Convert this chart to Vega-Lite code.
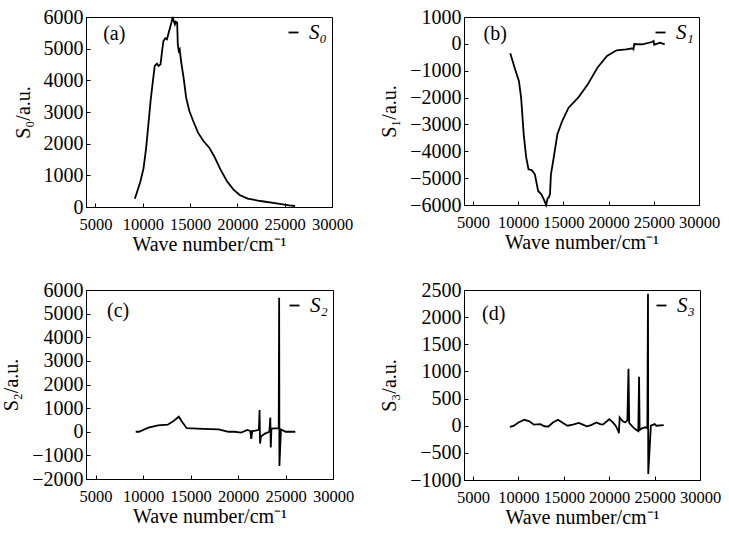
{
  "$schema": "https://vega.github.io/schema/vega-lite/v6.json",
  "padding": {"left": 1, "top": 6, "right": 0, "bottom": 5},
  "background": "white",
  "config": {
    "view": {"stroke": "black", "strokeWidth": 1},
    "font": "Liberation Serif",
    "axis": {"domainColor": "black", "tickColor": "black", "labelColor": "black", "titleColor": "black", "labelFont": "Liberation Serif", "titleFont": "Liberation Serif", "titleFontWeight": "normal", "grid": false, "tickSize": -4, "labelFlush": false, "labelOverlap": false},
    "axisX": {"labelFontSize": 16.5, "titleFontSize": 20, "labelPadding": 13, "titlePadding": 2},
    "axisY": {"labelFontSize": 20, "titleFontSize": 20, "labelPadding": 7, "titlePadding": 10},
    "legend": {"orient": "top-right", "symbolType": "stroke", "symbolSize": 100, "symbolStrokeWidth": 1.6, "symbolStrokeColor": "black", "labelFont": "Liberation Serif", "labelFontSize": 21, "labelFontStyle": "italic", "labelColor": "black", "offset": 5, "padding": 0, "labelOffset": 5},
    "line": {"color": "black", "strokeWidth": 1.8},
    "text": {"font": "Liberation Serif", "fontSize": 20, "align": "left", "baseline": "middle", "color": "black"}
  },
  "datasets": {
    "a": [
      {"w": 9166, "v": 263, "s": "S₀"}, {"w": 9742, "v": 800, "s": "S₀"}, {"w": 10080, "v": 1221, "s": "S₀"}, {"w": 10351, "v": 1853, "s": "S₀"}, {"w": 10588, "v": 2590, "s": "S₀"}, {"w": 10825, "v": 3347, "s": "S₀"}, {"w": 11028, "v": 3874, "s": "S₀"}, {"w": 11266, "v": 4453, "s": "S₀"}, {"w": 11502, "v": 4527, "s": "S₀"}, {"w": 11672, "v": 4453, "s": "S₀"}, {"w": 11875, "v": 4506, "s": "S₀"}, {"w": 12044, "v": 4927, "s": "S₀"}, {"w": 12180, "v": 5243, "s": "S₀"}, {"w": 12383, "v": 5327, "s": "S₀"}, {"w": 12552, "v": 5295, "s": "S₀"}, {"w": 12789, "v": 5559, "s": "S₀"}, {"w": 13026, "v": 5822, "s": "S₀"}, {"w": 13162, "v": 6000, "s": "S₀"}, {"w": 13297, "v": 5853, "s": "S₀"}, {"w": 13399, "v": 5769, "s": "S₀"}, {"w": 13500, "v": 5853, "s": "S₀"}, {"w": 13636, "v": 5822, "s": "S₀"}, {"w": 13704, "v": 5137, "s": "S₀"}, {"w": 13806, "v": 4927, "s": "S₀"}, {"w": 13907, "v": 4980, "s": "S₀"}, {"w": 14042, "v": 4611, "s": "S₀"}, {"w": 14313, "v": 4085, "s": "S₀"}, {"w": 14584, "v": 3453, "s": "S₀"}, {"w": 14923, "v": 3032, "s": "S₀"}, {"w": 15330, "v": 2716, "s": "S₀"}, {"w": 15838, "v": 2348, "s": "S₀"}, {"w": 16414, "v": 2084, "s": "S₀"}, {"w": 17023, "v": 1874, "s": "S₀"}, {"w": 17532, "v": 1611, "s": "S₀"}, {"w": 18208, "v": 1190, "s": "S₀"}, {"w": 18886, "v": 821, "s": "S₀"}, {"w": 19563, "v": 558, "s": "S₀"}, {"w": 20240, "v": 379, "s": "S₀"}, {"w": 21087, "v": 263, "s": "S₀"}, {"w": 22441, "v": 189, "s": "S₀"}, {"w": 24135, "v": 116, "s": "S₀"}, {"w": 25490, "v": 53, "s": "S₀"}, {"w": 26100, "v": 32, "s": "S₀"}
    ],
    "b": [
      {"w": 9117, "v": -353, "s": "S₁"}, {"w": 9713, "v": -1010, "s": "S₁"}, {"w": 10075, "v": -1383, "s": "S₁"}, {"w": 10320, "v": -2003, "s": "S₁"}, {"w": 10605, "v": -3368, "s": "S₁"}, {"w": 10885, "v": -4238, "s": "S₁"}, {"w": 11137, "v": -4670, "s": "S₁"}, {"w": 11490, "v": -4700, "s": "S₁"}, {"w": 11841, "v": -4857, "s": "S₁"}, {"w": 12203, "v": -5478, "s": "S₁"}, {"w": 12560, "v": -5600, "s": "S₁"}, {"w": 12906, "v": -5850, "s": "S₁"}, {"w": 13087, "v": -6000, "s": "S₁"}, {"w": 13250, "v": -5750, "s": "S₁"}, {"w": 13371, "v": -5727, "s": "S₁"}, {"w": 13513, "v": -5601, "s": "S₁"}, {"w": 13618, "v": -4857, "s": "S₁"}, {"w": 13866, "v": -4361, "s": "S₁"}, {"w": 14331, "v": -3368, "s": "S₁"}, {"w": 14863, "v": -2872, "s": "S₁"}, {"w": 15572, "v": -2376, "s": "S₁"}, {"w": 16636, "v": -2003, "s": "S₁"}, {"w": 17694, "v": -1507, "s": "S₁"}, {"w": 18758, "v": -887, "s": "S₁"}, {"w": 19822, "v": -452, "s": "S₁"}, {"w": 20886, "v": -241, "s": "S₁"}, {"w": 21950, "v": -203, "s": "S₁"}, {"w": 22660, "v": -166, "s": "S₁"}, {"w": 22750, "v": -200, "s": "S₁"}, {"w": 22840, "v": -6, "s": "S₁"}, {"w": 23727, "v": -17, "s": "S₁"}, {"w": 24790, "v": 69, "s": "S₁"}, {"w": 24970, "v": 107, "s": "S₁"}, {"w": 25050, "v": -30, "s": "S₁"}, {"w": 25150, "v": -17, "s": "S₁"}, {"w": 25680, "v": 45, "s": "S₁"}, {"w": 26208, "v": -17, "s": "S₁"}
    ],
    "c": [
      {"w": 9234, "v": 0, "s": "S₂"}, {"w": 9570, "v": 0, "s": "S₂"}, {"w": 10578, "v": 173, "s": "S₂"}, {"w": 11586, "v": 271, "s": "S₂"}, {"w": 12594, "v": 300, "s": "S₂"}, {"w": 13098, "v": 420, "s": "S₂"}, {"w": 13500, "v": 550, "s": "S₂"}, {"w": 13770, "v": 638, "s": "S₂"}, {"w": 14106, "v": 420, "s": "S₂"}, {"w": 14610, "v": 150, "s": "S₂"}, {"w": 16290, "v": 120, "s": "S₂"}, {"w": 17970, "v": 100, "s": "S₂"}, {"w": 19000, "v": 0, "s": "S₂"}, {"w": 19650, "v": 0, "s": "S₂"}, {"w": 20322, "v": -40, "s": "S₂"}, {"w": 20994, "v": 80, "s": "S₂"}, {"w": 21300, "v": 30, "s": "S₂"}, {"w": 21394, "v": -300, "s": "S₂"}, {"w": 21500, "v": 30, "s": "S₂"}, {"w": 21834, "v": 50, "s": "S₂"}, {"w": 22200, "v": 80, "s": "S₂"}, {"w": 22270, "v": 920, "s": "S₂"}, {"w": 22320, "v": -500, "s": "S₂"}, {"w": 22420, "v": -200, "s": "S₂"}, {"w": 22842, "v": -80, "s": "S₂"}, {"w": 23300, "v": 0, "s": "S₂"}, {"w": 23400, "v": 600, "s": "S₂"}, {"w": 23450, "v": -670, "s": "S₂"}, {"w": 23514, "v": 130, "s": "S₂"}, {"w": 24286, "v": 150, "s": "S₂"}, {"w": 24330, "v": 5670, "s": "S₂"}, {"w": 24360, "v": -1450, "s": "S₂"}, {"w": 24522, "v": 100, "s": "S₂"}, {"w": 25026, "v": 0, "s": "S₂"}, {"w": 26034, "v": 0, "s": "S₂"}
    ],
    "d": [
      {"w": 9058, "v": -20, "s": "S₃"}, {"w": 9500, "v": 0, "s": "S₃"}, {"w": 10000, "v": 60, "s": "S₃"}, {"w": 10648, "v": 110, "s": "S₃"}, {"w": 11200, "v": 80, "s": "S₃"}, {"w": 11700, "v": 20, "s": "S₃"}, {"w": 12413, "v": 30, "s": "S₃"}, {"w": 12850, "v": -10, "s": "S₃"}, {"w": 13295, "v": -15, "s": "S₃"}, {"w": 13800, "v": 60, "s": "S₃"}, {"w": 14354, "v": 110, "s": "S₃"}, {"w": 14900, "v": 50, "s": "S₃"}, {"w": 15413, "v": 0, "s": "S₃"}, {"w": 16000, "v": 20, "s": "S₃"}, {"w": 16649, "v": 50, "s": "S₃"}, {"w": 17100, "v": 20, "s": "S₃"}, {"w": 17531, "v": -10, "s": "S₃"}, {"w": 18000, "v": 10, "s": "S₃"}, {"w": 18590, "v": 60, "s": "S₃"}, {"w": 19000, "v": 30, "s": "S₃"}, {"w": 19297, "v": 20, "s": "S₃"}, {"w": 20003, "v": 120, "s": "S₃"}, {"w": 20400, "v": 60, "s": "S₃"}, {"w": 20709, "v": 0, "s": "S₃"}, {"w": 21000, "v": -100, "s": "S₃"}, {"w": 21062, "v": -140, "s": "S₃"}, {"w": 21150, "v": 150, "s": "S₃"}, {"w": 21238, "v": 130, "s": "S₃"}, {"w": 21500, "v": 80, "s": "S₃"}, {"w": 21768, "v": 60, "s": "S₃"}, {"w": 22000, "v": 100, "s": "S₃"}, {"w": 22121, "v": 1050, "s": "S₃"}, {"w": 22200, "v": 50, "s": "S₃"}, {"w": 22474, "v": 0, "s": "S₃"}, {"w": 22700, "v": -40, "s": "S₃"}, {"w": 23000, "v": -80, "s": "S₃"}, {"w": 23200, "v": -100, "s": "S₃"}, {"w": 23286, "v": 900, "s": "S₃"}, {"w": 23350, "v": -80, "s": "S₃"}, {"w": 23600, "v": -50, "s": "S₃"}, {"w": 24000, "v": -30, "s": "S₃"}, {"w": 24200, "v": -50, "s": "S₃"}, {"w": 24270, "v": 2430, "s": "S₃"}, {"w": 24300, "v": -890, "s": "S₃"}, {"w": 24588, "v": 0, "s": "S₃"}, {"w": 25000, "v": 30, "s": "S₃"}, {"w": 25200, "v": 0, "s": "S₃"}, {"w": 26000, "v": 10, "s": "S₃"}
    ]
  },
  "columns": 2,
  "spacing": {"row": 24, "column": 24},
  "resolve": {"scale": {"color": "independent"}, "legend": {"color": "independent"}},
  "concat": [
    {
      "width": 246, "height": 190,
      "layer": [
        {"data": {"name": "a"}, "mark": {"type": "line"},
         "encoding": {
           "x": {"field": "w", "type": "quantitative", "scale": {"domain": [5000, 30000]}, "axis": {"values": [5000, 10000, 15000, 20000, 25000, 30000], "format": "d", "labelOverlap": false, "title": "Wave number/cm⁻¹"}},
           "y": {"field": "v", "type": "quantitative", "scale": {"domain": [0, 6000]}, "axis": {"values": [0, 1000, 2000, 3000, 4000, 5000, 6000], "format": "d", "labelOverlap": false, "title": "S₀/a.u."}},
           "color": {"field": "s", "type": "nominal", "scale": {"range": ["black"]}, "legend": {"title": null}}
         }},
        {"data": {"values": [{"label": "(a)"}]}, "mark": {"type": "text"}, "encoding": {
           "x": {"datum": 5813, "type": "quantitative", "axis": {"values": [5000, 10000, 15000, 20000, 25000, 30000], "format": "d", "labelOverlap": false, "title": "Wave number/cm⁻¹"}},
           "y": {"datum": 5463, "type": "quantitative", "axis": {"values": [0, 1000, 2000, 3000, 4000, 5000, 6000], "format": "d", "labelOverlap": false, "title": "S₀/a.u."}},
           "text": {"field": "label"}}}
      ]
    },
    {
      "width": 235, "height": 188,
      "layer": [
        {"data": {"name": "b"}, "mark": {"type": "line"},
         "encoding": {
           "x": {"field": "w", "type": "quantitative", "scale": {"domain": [5000, 30000]}, "axis": {"values": [5000, 10000, 15000, 20000, 25000, 30000], "format": "d", "labelOverlap": false, "title": "Wave number/cm⁻¹"}},
           "y": {"field": "v", "type": "quantitative", "scale": {"domain": [-6000, 1000]}, "axis": {"values": [-6000, -5000, -4000, -3000, -2000, -1000, 0, 1000], "format": "d", "labelOverlap": false, "title": "S₁/a.u."}},
           "color": {"field": "s", "type": "nominal", "scale": {"range": ["black"]}, "legend": {"title": null}}
         }},
        {"data": {"values": [{"label": "(b)"}]}, "mark": {"type": "text"}, "encoding": {
           "x": {"datum": 6170, "type": "quantitative", "axis": {"values": [5000, 10000, 15000, 20000, 25000, 30000], "format": "d", "labelOverlap": false, "title": "Wave number/cm⁻¹"}},
           "y": {"datum": 367, "type": "quantitative", "axis": {"values": [-6000, -5000, -4000, -3000, -2000, -1000, 0, 1000], "format": "d", "labelOverlap": false, "title": "S₁/a.u."}},
           "text": {"field": "label"}}}
      ]
    },
    {
      "width": 247, "height": 189,
      "layer": [
        {"data": {"name": "c"}, "mark": {"type": "line"},
         "encoding": {
           "x": {"field": "w", "type": "quantitative", "scale": {"domain": [5000, 30000]}, "axis": {"values": [5000, 10000, 15000, 20000, 25000, 30000], "format": "d", "labelOverlap": false, "title": "Wave number/cm⁻¹"}},
           "y": {"field": "v", "type": "quantitative", "scale": {"domain": [-2000, 6000]}, "axis": {"values": [-2000, -1000, 0, 1000, 2000, 3000, 4000, 5000, 6000], "format": "d", "labelOverlap": false, "title": "S₂/a.u."}},
           "color": {"field": "s", "type": "nominal", "scale": {"range": ["black"]}, "legend": {"title": null}}
         }},
        {"data": {"values": [{"label": "(c)"}]}, "mark": {"type": "text"}, "encoding": {
           "x": {"datum": 6210, "type": "quantitative", "axis": {"values": [5000, 10000, 15000, 20000, 25000, 30000], "format": "d", "labelOverlap": false, "title": "Wave number/cm⁻¹"}},
           "y": {"datum": 5111, "type": "quantitative", "axis": {"values": [-2000, -1000, 0, 1000, 2000, 3000, 4000, 5000, 6000], "format": "d", "labelOverlap": false, "title": "S₂/a.u."}},
           "text": {"field": "label"}}}
      ]
    },
    {
      "width": 236, "height": 190,
      "layer": [
        {"data": {"name": "d"}, "mark": {"type": "line"},
         "encoding": {
           "x": {"field": "w", "type": "quantitative", "scale": {"domain": [5000, 30000]}, "axis": {"values": [5000, 10000, 15000, 20000, 25000, 30000], "format": "d", "labelOverlap": false, "title": "Wave number/cm⁻¹"}},
           "y": {"field": "v", "type": "quantitative", "scale": {"domain": [-1000, 2500]}, "axis": {"values": [-1000, -500, 0, 500, 1000, 1500, 2000, 2500], "format": "d", "labelOverlap": false, "title": "S₃/a.u."}},
           "color": {"field": "s", "type": "nominal", "scale": {"range": ["black"]}, "legend": {"title": null}}
         }},
        {"data": {"values": [{"label": "(d)"}]}, "mark": {"type": "text"}, "encoding": {
           "x": {"datum": 5985, "type": "quantitative", "axis": {"values": [5000, 10000, 15000, 20000, 25000, 30000], "format": "d", "labelOverlap": false, "title": "Wave number/cm⁻¹"}},
           "y": {"datum": 2064, "type": "quantitative", "axis": {"values": [-1000, -500, 0, 500, 1000, 1500, 2000, 2500], "format": "d", "labelOverlap": false, "title": "S₃/a.u."}},
           "text": {"field": "label"}}}
      ]
    }
  ]
}
